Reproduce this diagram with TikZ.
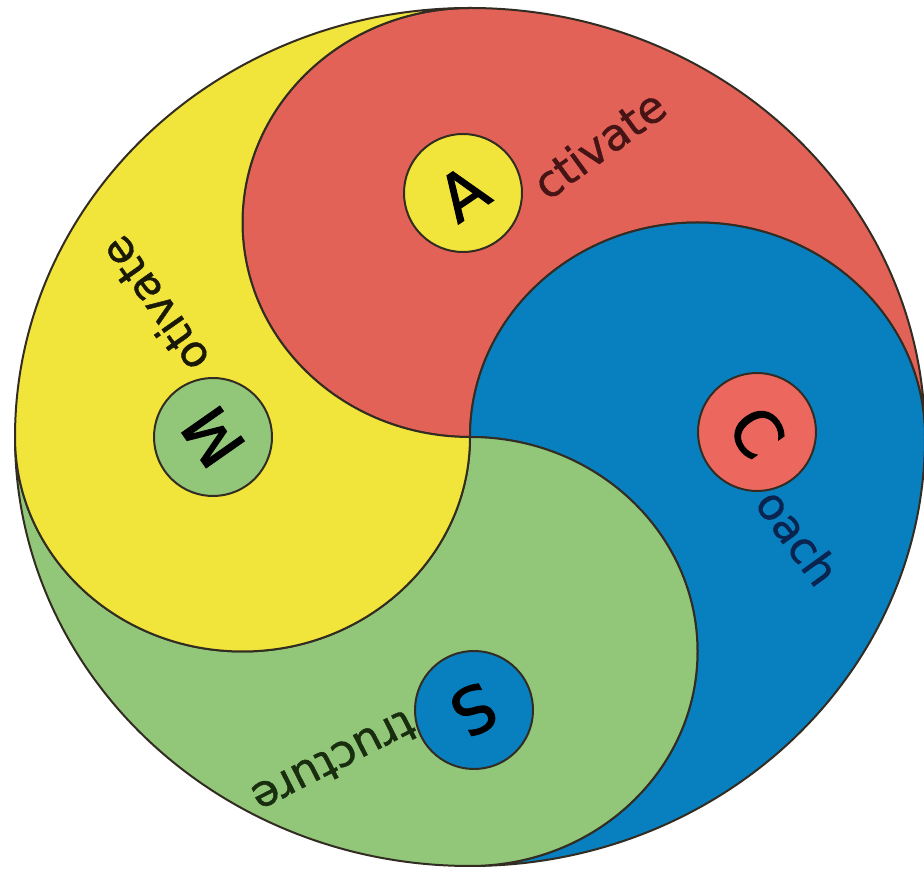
\documentclass[tikz,border=0pt]{standalone}
\usepackage{fontspec}
\setmainfont{DejaVu Sans}
\newfontfamily\badgefont[RawFeature={embolden=1.6}]{DejaVu Sans}
\newfontfamily\wordfont[RawFeature={embolden=1.0}]{DejaVu Sans}
\definecolor{cred}{RGB}{226,98,88}
\definecolor{cyellow}{RGB}{241,228,58}
\definecolor{cblue}{RGB}{8,128,192}
\definecolor{cgreen}{RGB}{146,199,122}
\definecolor{cbadgered}{RGB}{236,104,94}
\definecolor{edgecol}{RGB}{50,44,34}
\definecolor{tred}{RGB}{70,20,20}
\definecolor{tblue}{RGB}{10,36,80}
\definecolor{tyellow}{RGB}{25,25,5}
\definecolor{tgreen}{RGB}{25,45,15}
\begin{document}
\begin{tikzpicture}[x=1pt,y=1pt,
  region/.style={draw=edgecol, line width=2pt, line join=round},
  badge/.style={circle, draw=edgecol, line width=2pt, minimum size=118pt, inner sep=0pt, font=\badgefont\fontsize{64}{64}\selectfont, text=black},
  word/.style={inner sep=0pt, font=\wordfont\fontsize{44}{44}\selectfont}]
\fill[white] (0,0) rectangle (924,870);
\useasboundingbox (0,0) rectangle (924,870);
\begin{scope}[shift={(470,433)}, xscale=455, yscale=429]
  % red (top)
  \path[region, fill=cred] (0,0) arc[start angle=270, end angle=90, radius=0.5]
      arc[start angle=90, end angle=0, radius=1]
      arc[start angle=0, end angle=180, radius=0.5] -- cycle;
  % blue (right)
  \path[region, fill=cblue] (0,0) arc[start angle=180, end angle=0, radius=0.5]
      arc[start angle=0, end angle=-90, radius=1]
      arc[start angle=-90, end angle=90, radius=0.5] -- cycle;
  % green (bottom)
  \path[region, fill=cgreen] (0,0) arc[start angle=90, end angle=-90, radius=0.5]
      arc[start angle=-90, end angle=-180, radius=1]
      arc[start angle=180, end angle=360, radius=0.5] -- cycle;
  % yellow (left)
  \path[region, fill=cyellow] (0,0) arc[start angle=0, end angle=-180, radius=0.5]
      arc[start angle=180, end angle=90, radius=1]
      arc[start angle=90, end angle=270, radius=0.5] -- cycle;
\end{scope}
% badges
\node[badge, fill=cyellow, rotate=34] (A) at (463,677) {A};
\node[badge, fill=cgreen, rotate=125] (M) at (213,433) {M};
\node[badge, fill=cbadgered, rotate=-55] (C) at (757,438) {C};
\node[badge, fill=cblue, rotate=-153] (S) at (474,160) {S};
% words
\node[word, text=tred, rotate=36] (wA) at (599,726) {ctivate};
\node[word, text=tyellow, rotate=125] (wM) at (154,565) {otivate};
\node[word, text=tblue, rotate=-54] (wC) at (798,333) {oach};
\node[word, text=tgreen, rotate=-153] (wS) at (334,108) {tructure};
\end{tikzpicture}
\end{document}
